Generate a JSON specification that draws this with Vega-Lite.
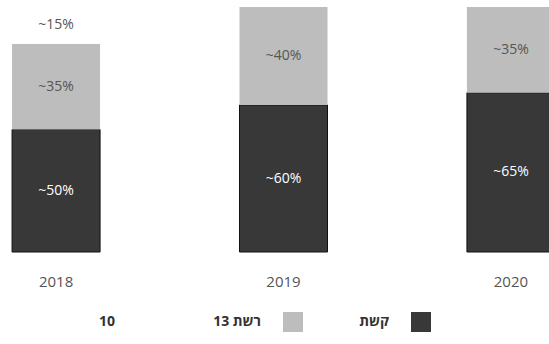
{
  "$schema": "https://vega.github.io/schema/vega-lite/v6.json",
  "width": 567,
  "height": 245,
  "autosize": "none",
  "padding": {"left": 0, "top": 7, "right": 0, "bottom": 92},
  "background": "white",
  "config": {"view": {"stroke": null}, "axis": {"grid": false}},
  "data": {
    "values": [
      {"year": "2018", "series": "קשת", "rank": 1, "value": 50, "label": "~50%"},
      {"year": "2018", "series": "רשת 13", "rank": 2, "value": 35, "label": "~35%"},
      {"year": "2018", "series": "10", "rank": 3, "value": 15, "label": "~15%"},
      {"year": "2019", "series": "קשת", "rank": 1, "value": 60, "label": "~60%"},
      {"year": "2019", "series": "רשת 13", "rank": 2, "value": 40, "label": "~40%"},
      {"year": "2020", "series": "קשת", "rank": 1, "value": 65, "label": "~65%"},
      {"year": "2020", "series": "רשת 13", "rank": 2, "value": 35, "label": "~35%"}
    ]
  },
  "encoding": {
    "x": {
      "field": "year",
      "type": "ordinal",
      "scale": {"paddingInner": 0.613, "paddingOuter": 0.053},
      "axis": {
        "title": null,
        "domain": false,
        "ticks": false,
        "labelAngle": 0,
        "labelPadding": 22,
        "labelFontSize": 15,
        "labelColor": "#555",
        "labelFont": "Open Sans"
      }
    }
  },
  "layer": [
    {
      "mark": {"type": "bar", "strokeWidth": 1},
      "encoding": {
        "y": {"field": "value", "type": "quantitative", "stack": "zero", "scale": {"domain": [0, 100]}, "axis": null},
        "color": {
          "field": "series",
          "type": "nominal",
          "scale": {"domain": ["10", "רשת 13", "קשת"], "range": ["#ffffff", "#bdbdbd", "#383838"]},
          "legend": {
            "title": null,
            "orient": "none",
            "legendX": 137,
            "legendY": 305,
            "direction": "horizontal",
            "columns": 3,
            "symbolType": "square",
            "symbolSize": 400,
            "symbolStrokeWidth": 0,
            "labelAlign": "right",
            "labelOffset": -42,
            "labelFontSize": 14,
            "labelFontWeight": "bold",
            "labelColor": "#333",
            "labelFont": "Open Sans",
            "columnPadding": 56
          }
        },
        "stroke": {"condition": {"test": "datum.series === 'קשת'", "value": "#111111"}, "value": null},
        "order": {"field": "rank", "type": "quantitative"}
      }
    },
    {
      "transform": [
        {"stack": "value", "groupby": ["year"], "sort": [{"field": "rank"}], "as": ["v0", "v1"]},
        {"calculate": "(datum.v0 + datum.v1) / 2", "as": "mid"}
      ],
      "mark": {"type": "text", "font": "Open Sans", "fontSize": 14},
      "encoding": {
        "y": {"field": "mid", "type": "quantitative"},
        "text": {"field": "label"},
        "color": {
          "field": "series",
          "type": "nominal",
          "scale": {"domain": ["10", "רשת 13", "קשת"], "range": ["#555555", "#555555", "#ffffff"]},
          "legend": null
        }
      }
    }
  ],
  "resolve": {"scale": {"color": "independent"}}
}
